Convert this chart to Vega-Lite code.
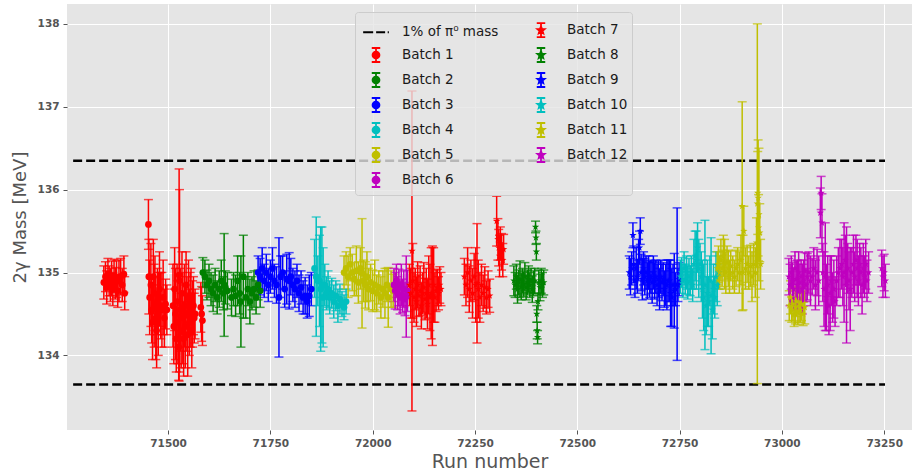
{
"$schema": "https://vega.github.io/schema/vega-lite/v6.json",
"width": 845, "height": 426,
"autosize": {"type": "none"},
"padding": {"left": 67, "top": 4, "right": 1, "bottom": 42},
"background": "white",
"config": {"view": {"fill": "#E5E5E5", "stroke": null}},
"datasets": {
"lim": [
{"batch": "1% of π⁰ mass", "run": 71268, "run2": 73252, "mass": 136.35},
{"batch": "1% of π⁰ mass", "run": 71268, "run2": 73252, "mass": 133.65}
],
"pts": [
{"batch":"Batch 1","run":71343,"mass":134.88,"err":0.2},
{"batch":"Batch 1","run":71347,"mass":134.95,"err":0.18},
{"batch":"Batch 1","run":71350,"mass":134.82,"err":0.2},
{"batch":"Batch 1","run":71353,"mass":134.98,"err":0.19},
{"batch":"Batch 1","run":71356,"mass":134.9,"err":0.18},
{"batch":"Batch 1","run":71359,"mass":134.85,"err":0.2},
{"batch":"Batch 1","run":71362,"mass":134.93,"err":0.21},
{"batch":"Batch 1","run":71365,"mass":134.8,"err":0.2},
{"batch":"Batch 1","run":71368,"mass":134.96,"err":0.2},
{"batch":"Batch 1","run":71371,"mass":134.87,"err":0.19},
{"batch":"Batch 1","run":71374,"mass":134.92,"err":0.22},
{"batch":"Batch 1","run":71377,"mass":134.78,"err":0.2},
{"batch":"Batch 1","run":71380,"mass":134.9,"err":0.25},
{"batch":"Batch 1","run":71384,"mass":134.95,"err":0.22},
{"batch":"Batch 1","run":71388,"mass":134.85,"err":0.2},
{"batch":"Batch 1","run":71392,"mass":134.98,"err":0.22},
{"batch":"Batch 1","run":71394,"mass":134.75,"err":0.2},
{"batch":"Batch 1","run":71452,"mass":135.58,"err":0.3},
{"batch":"Batch 1","run":71453,"mass":134.95,"err":0.45},
{"batch":"Batch 1","run":71455,"mass":134.7,"err":0.45},
{"batch":"Batch 1","run":71458,"mass":134.85,"err":0.5},
{"batch":"Batch 1","run":71460,"mass":134.55,"err":0.4},
{"batch":"Batch 1","run":71462,"mass":134.4,"err":0.45},
{"batch":"Batch 1","run":71464,"mass":134.95,"err":0.45},
{"batch":"Batch 1","run":71466,"mass":134.6,"err":0.5},
{"batch":"Batch 1","run":71468,"mass":134.75,"err":0.45},
{"batch":"Batch 1","run":71470,"mass":134.45,"err":0.5},
{"batch":"Batch 1","run":71472,"mass":134.3,"err":0.45},
{"batch":"Batch 1","run":71474,"mass":134.65,"err":0.4},
{"batch":"Batch 1","run":71476,"mass":134.5,"err":0.5},
{"batch":"Batch 1","run":71479,"mass":134.8,"err":0.45},
{"batch":"Batch 1","run":71482,"mass":134.6,"err":0.4},
{"batch":"Batch 1","run":71485,"mass":134.55,"err":0.45},
{"batch":"Batch 1","run":71488,"mass":134.7,"err":0.45},
{"batch":"Batch 1","run":71491,"mass":134.45,"err":0.35},
{"batch":"Batch 1","run":71494,"mass":134.62,"err":0.3},
{"batch":"Batch 1","run":71497,"mass":134.55,"err":0.3},
{"batch":"Batch 1","run":71512,"mass":134.6,"err":0.5},
{"batch":"Batch 1","run":71514,"mass":134.35,"err":0.45},
{"batch":"Batch 1","run":71516,"mass":134.8,"err":0.5},
{"batch":"Batch 1","run":71518,"mass":134.5,"err":0.55},
{"batch":"Batch 1","run":71520,"mass":134.2,"err":0.4},
{"batch":"Batch 1","run":71522,"mass":134.65,"err":0.45},
{"batch":"Batch 1","run":71524,"mass":134.4,"err":0.5},
{"batch":"Batch 1","run":71526,"mass":134.1,"err":0.4},
{"batch":"Batch 1","run":71527,"mass":134.97,"err":1.28},
{"batch":"Batch 1","run":71528,"mass":134.9,"err":1.1},
{"batch":"Batch 1","run":71530,"mass":134.55,"err":0.5},
{"batch":"Batch 1","run":71532,"mass":134.3,"err":0.45},
{"batch":"Batch 1","run":71534,"mass":134.75,"err":0.5},
{"batch":"Batch 1","run":71536,"mass":134.45,"err":0.55},
{"batch":"Batch 1","run":71538,"mass":134.2,"err":0.45},
{"batch":"Batch 1","run":71540,"mass":134.6,"err":0.5},
{"batch":"Batch 1","run":71542,"mass":134.35,"err":0.5},
{"batch":"Batch 1","run":71544,"mass":134.85,"err":0.4},
{"batch":"Batch 1","run":71546,"mass":134.5,"err":0.45},
{"batch":"Batch 1","run":71548,"mass":134.25,"err":0.5},
{"batch":"Batch 1","run":71550,"mass":134.7,"err":0.45},
{"batch":"Batch 1","run":71552,"mass":134.4,"err":0.4},
{"batch":"Batch 1","run":71554,"mass":134.55,"err":0.45},
{"batch":"Batch 1","run":71556,"mass":134.65,"err":0.4},
{"batch":"Batch 1","run":71558,"mass":134.3,"err":0.45},
{"batch":"Batch 1","run":71560,"mass":134.5,"err":0.4},
{"batch":"Batch 1","run":71562,"mass":134.6,"err":0.35},
{"batch":"Batch 1","run":71564,"mass":134.45,"err":0.3},
{"batch":"Batch 1","run":71566,"mass":134.5,"err":0.3},
{"batch":"Batch 1","run":71580,"mass":134.58,"err":0.3},
{"batch":"Batch 1","run":71582,"mass":134.5,"err":0.33},
{"batch":"Batch 1","run":71584,"mass":134.42,"err":0.3},
{"batch":"Batch 2","run":71585,"mass":135.0,"err":0.18},
{"batch":"Batch 2","run":71590,"mass":134.95,"err":0.2},
{"batch":"Batch 2","run":71595,"mass":134.85,"err":0.18},
{"batch":"Batch 2","run":71600,"mass":134.9,"err":0.2},
{"batch":"Batch 2","run":71605,"mass":134.8,"err":0.2},
{"batch":"Batch 2","run":71610,"mass":134.75,"err":0.22},
{"batch":"Batch 2","run":71615,"mass":134.85,"err":0.2},
{"batch":"Batch 2","run":71620,"mass":134.7,"err":0.2},
{"batch":"Batch 2","run":71625,"mass":134.8,"err":0.22},
{"batch":"Batch 2","run":71630,"mass":134.9,"err":0.25},
{"batch":"Batch 2","run":71635,"mass":134.75,"err":0.2},
{"batch":"Batch 2","run":71637,"mass":134.85,"err":0.62},
{"batch":"Batch 2","run":71640,"mass":134.82,"err":0.2},
{"batch":"Batch 2","run":71645,"mass":134.78,"err":0.22},
{"batch":"Batch 2","run":71655,"mass":134.7,"err":0.22},
{"batch":"Batch 2","run":71660,"mass":134.8,"err":0.2},
{"batch":"Batch 2","run":71665,"mass":134.72,"err":0.25},
{"batch":"Batch 2","run":71670,"mass":134.9,"err":0.3},
{"batch":"Batch 2","run":71675,"mass":134.75,"err":0.25},
{"batch":"Batch 2","run":71678,"mass":134.65,"err":0.55},
{"batch":"Batch 2","run":71684,"mass":134.95,"err":0.5},
{"batch":"Batch 2","run":71690,"mass":134.7,"err":0.25},
{"batch":"Batch 2","run":71695,"mass":134.8,"err":0.2},
{"batch":"Batch 2","run":71700,"mass":134.65,"err":0.27},
{"batch":"Batch 2","run":71705,"mass":134.75,"err":0.2},
{"batch":"Batch 2","run":71710,"mass":134.8,"err":0.22},
{"batch":"Batch 2","run":71715,"mass":134.7,"err":0.2},
{"batch":"Batch 2","run":71720,"mass":134.85,"err":0.18},
{"batch":"Batch 2","run":71725,"mass":134.78,"err":0.2},
{"batch":"Batch 3","run":71720,"mass":135.0,"err":0.2},
{"batch":"Batch 3","run":71725,"mass":134.95,"err":0.22},
{"batch":"Batch 3","run":71730,"mass":135.05,"err":0.25},
{"batch":"Batch 3","run":71735,"mass":134.9,"err":0.2},
{"batch":"Batch 3","run":71740,"mass":135.0,"err":0.22},
{"batch":"Batch 3","run":71745,"mass":134.85,"err":0.2},
{"batch":"Batch 3","run":71750,"mass":134.95,"err":0.2},
{"batch":"Batch 3","run":71755,"mass":135.05,"err":0.25},
{"batch":"Batch 3","run":71760,"mass":134.9,"err":0.2},
{"batch":"Batch 3","run":71765,"mass":134.85,"err":0.22},
{"batch":"Batch 3","run":71771,"mass":134.7,"err":0.72},
{"batch":"Batch 3","run":71775,"mass":134.95,"err":0.25},
{"batch":"Batch 3","run":71780,"mass":135.0,"err":0.2},
{"batch":"Batch 3","run":71785,"mass":134.8,"err":0.22},
{"batch":"Batch 3","run":71790,"mass":134.92,"err":0.3},
{"batch":"Batch 3","run":71796,"mass":134.9,"err":0.34},
{"batch":"Batch 3","run":71800,"mass":134.95,"err":0.22},
{"batch":"Batch 3","run":71805,"mass":134.85,"err":0.2},
{"batch":"Batch 3","run":71810,"mass":134.8,"err":0.22},
{"batch":"Batch 3","run":71815,"mass":134.9,"err":0.2},
{"batch":"Batch 3","run":71820,"mass":134.75,"err":0.22},
{"batch":"Batch 3","run":71825,"mass":134.82,"err":0.2},
{"batch":"Batch 3","run":71830,"mass":134.7,"err":0.2},
{"batch":"Batch 3","run":71835,"mass":134.72,"err":0.22},
{"batch":"Batch 3","run":71840,"mass":134.65,"err":0.2},
{"batch":"Batch 3","run":71845,"mass":134.72,"err":0.25},
{"batch":"Batch 3","run":71850,"mass":134.8,"err":0.2},
{"batch":"Batch 4","run":71858,"mass":135.05,"err":0.35},
{"batch":"Batch 4","run":71862,"mass":134.95,"err":0.72},
{"batch":"Batch 4","run":71866,"mass":134.9,"err":0.3},
{"batch":"Batch 4","run":71870,"mass":134.9,"err":0.55},
{"batch":"Batch 4","run":71873,"mass":134.8,"err":0.75},
{"batch":"Batch 4","run":71876,"mass":134.85,"err":0.7},
{"batch":"Batch 4","run":71879,"mass":134.7,"err":0.6},
{"batch":"Batch 4","run":71883,"mass":134.85,"err":0.25},
{"batch":"Batch 4","run":71887,"mass":134.75,"err":0.2},
{"batch":"Batch 4","run":71891,"mass":134.8,"err":0.22},
{"batch":"Batch 4","run":71895,"mass":134.7,"err":0.2},
{"batch":"Batch 4","run":71900,"mass":134.75,"err":0.18},
{"batch":"Batch 4","run":71905,"mass":134.65,"err":0.2},
{"batch":"Batch 4","run":71910,"mass":134.72,"err":0.18},
{"batch":"Batch 4","run":71915,"mass":134.6,"err":0.2},
{"batch":"Batch 4","run":71920,"mass":134.68,"err":0.18},
{"batch":"Batch 4","run":71925,"mass":134.62,"err":0.15},
{"batch":"Batch 4","run":71930,"mass":134.58,"err":0.15},
{"batch":"Batch 4","run":71935,"mass":134.65,"err":0.15},
{"batch":"Batch 5","run":71930,"mass":135.0,"err":0.2},
{"batch":"Batch 5","run":71935,"mass":135.05,"err":0.2},
{"batch":"Batch 5","run":71940,"mass":134.95,"err":0.25},
{"batch":"Batch 5","run":71945,"mass":135.1,"err":0.2},
{"batch":"Batch 5","run":71950,"mass":135.0,"err":0.22},
{"batch":"Batch 5","run":71955,"mass":134.92,"err":0.2},
{"batch":"Batch 5","run":71960,"mass":135.02,"err":0.3},
{"batch":"Batch 5","run":71965,"mass":134.88,"err":0.25},
{"batch":"Batch 5","run":71970,"mass":135.05,"err":0.25},
{"batch":"Batch 5","run":71974,"mass":134.99,"err":0.66},
{"batch":"Batch 5","run":71978,"mass":134.9,"err":0.25},
{"batch":"Batch 5","run":71982,"mass":134.85,"err":0.28},
{"batch":"Batch 5","run":71986,"mass":134.95,"err":0.3},
{"batch":"Batch 5","run":71990,"mass":134.8,"err":0.25},
{"batch":"Batch 5","run":71995,"mass":134.88,"err":0.22},
{"batch":"Batch 5","run":72000,"mass":134.78,"err":0.25},
{"batch":"Batch 5","run":72005,"mass":134.85,"err":0.3},
{"batch":"Batch 5","run":72010,"mass":134.75,"err":0.22},
{"batch":"Batch 5","run":72015,"mass":134.82,"err":0.2},
{"batch":"Batch 5","run":72020,"mass":134.7,"err":0.25},
{"batch":"Batch 5","run":72025,"mass":134.8,"err":0.22},
{"batch":"Batch 5","run":72030,"mass":134.75,"err":0.3},
{"batch":"Batch 5","run":72035,"mass":134.85,"err":0.2},
{"batch":"Batch 5","run":72038,"mass":134.7,"err":0.36},
{"batch":"Batch 5","run":72045,"mass":134.8,"err":0.22},
{"batch":"Batch 5","run":72050,"mass":134.78,"err":0.2},
{"batch":"Batch 6","run":72052,"mass":134.85,"err":0.2},
{"batch":"Batch 6","run":72055,"mass":134.78,"err":0.22},
{"batch":"Batch 6","run":72058,"mass":134.9,"err":0.2},
{"batch":"Batch 6","run":72061,"mass":134.75,"err":0.2},
{"batch":"Batch 6","run":72064,"mass":134.82,"err":0.22},
{"batch":"Batch 6","run":72067,"mass":134.7,"err":0.2},
{"batch":"Batch 6","run":72070,"mass":134.85,"err":0.25},
{"batch":"Batch 6","run":72073,"mass":134.72,"err":0.2},
{"batch":"Batch 6","run":72076,"mass":134.8,"err":0.22},
{"batch":"Batch 6","run":72079,"mass":134.68,"err":0.2},
{"batch":"Batch 6","run":72082,"mass":134.71,"err":0.49},
{"batch":"Batch 6","run":72085,"mass":134.78,"err":0.25},
{"batch":"Batch 7","run":72090,"mass":134.85,"err":0.25},
{"batch":"Batch 7","run":72093,"mass":134.75,"err":0.3},
{"batch":"Batch 7","run":72096,"mass":135.26,"err":1.93},
{"batch":"Batch 7","run":72098,"mass":134.9,"err":0.45},
{"batch":"Batch 7","run":72101,"mass":134.7,"err":0.3},
{"batch":"Batch 7","run":72104,"mass":134.8,"err":0.25},
{"batch":"Batch 7","run":72107,"mass":134.65,"err":0.3},
{"batch":"Batch 7","run":72110,"mass":134.85,"err":0.28},
{"batch":"Batch 7","run":72113,"mass":134.72,"err":0.25},
{"batch":"Batch 7","run":72116,"mass":134.78,"err":0.3},
{"batch":"Batch 7","run":72119,"mass":134.6,"err":0.28},
{"batch":"Batch 7","run":72122,"mass":134.75,"err":0.25},
{"batch":"Batch 7","run":72125,"mass":134.82,"err":0.3},
{"batch":"Batch 7","run":72128,"mass":134.68,"err":0.25},
{"batch":"Batch 7","run":72131,"mass":134.75,"err":0.3},
{"batch":"Batch 7","run":72134,"mass":134.62,"err":0.3},
{"batch":"Batch 7","run":72137,"mass":134.85,"err":0.35},
{"batch":"Batch 7","run":72140,"mass":134.7,"err":0.4},
{"batch":"Batch 7","run":72143,"mass":134.75,"err":0.55},
{"batch":"Batch 7","run":72146,"mass":134.72,"err":0.6},
{"batch":"Batch 7","run":72149,"mass":134.85,"err":0.45},
{"batch":"Batch 7","run":72152,"mass":134.7,"err":0.3},
{"batch":"Batch 7","run":72155,"mass":134.78,"err":0.25},
{"batch":"Batch 7","run":72158,"mass":134.82,"err":0.22},
{"batch":"Batch 7","run":72161,"mass":134.75,"err":0.2},
{"batch":"Batch 7","run":72164,"mass":134.85,"err":0.22},
{"batch":"Batch 7","run":72167,"mass":134.8,"err":0.2},
{"batch":"Batch 7","run":72224,"mass":134.95,"err":0.22},
{"batch":"Batch 7","run":72228,"mass":134.85,"err":0.25},
{"batch":"Batch 7","run":72232,"mass":135.0,"err":0.3},
{"batch":"Batch 7","run":72236,"mass":134.8,"err":0.28},
{"batch":"Batch 7","run":72240,"mass":134.9,"err":0.25},
{"batch":"Batch 7","run":72244,"mass":134.75,"err":0.3},
{"batch":"Batch 7","run":72248,"mass":134.95,"err":0.28},
{"batch":"Batch 7","run":72252,"mass":134.85,"err":0.45},
{"batch":"Batch 7","run":72255,"mass":134.87,"err":0.72},
{"batch":"Batch 7","run":72258,"mass":134.8,"err":0.35},
{"batch":"Batch 7","run":72262,"mass":134.7,"err":0.3},
{"batch":"Batch 7","run":72266,"mass":134.85,"err":0.25},
{"batch":"Batch 7","run":72270,"mass":134.75,"err":0.22},
{"batch":"Batch 7","run":72274,"mass":134.82,"err":0.25},
{"batch":"Batch 7","run":72278,"mass":134.7,"err":0.2},
{"batch":"Batch 7","run":72282,"mass":134.8,"err":0.22},
{"batch":"Batch 7","run":72286,"mass":134.72,"err":0.2},
{"batch":"Batch 7","run":72303,"mass":135.62,"err":0.3},
{"batch":"Batch 7","run":72306,"mass":135.4,"err":0.25},
{"batch":"Batch 7","run":72308,"mass":135.3,"err":0.22},
{"batch":"Batch 7","run":72310,"mass":135.2,"err":0.25},
{"batch":"Batch 7","run":72312,"mass":135.35,"err":0.2},
{"batch":"Batch 7","run":72315,"mass":135.25,"err":0.22},
{"batch":"Batch 7","run":72318,"mass":135.15,"err":0.2},
{"batch":"Batch 7","run":72320,"mass":135.28,"err":0.18},
{"batch":"Batch 8","run":72345,"mass":134.9,"err":0.18},
{"batch":"Batch 8","run":72348,"mass":134.85,"err":0.15},
{"batch":"Batch 8","run":72351,"mass":134.95,"err":0.15},
{"batch":"Batch 8","run":72354,"mass":134.8,"err":0.17},
{"batch":"Batch 8","run":72357,"mass":134.88,"err":0.15},
{"batch":"Batch 8","run":72360,"mass":134.92,"err":0.22},
{"batch":"Batch 8","run":72363,"mass":134.83,"err":0.16},
{"batch":"Batch 8","run":72366,"mass":134.9,"err":0.15},
{"batch":"Batch 8","run":72369,"mass":134.86,"err":0.15},
{"batch":"Batch 8","run":72372,"mass":134.95,"err":0.17},
{"batch":"Batch 8","run":72375,"mass":134.82,"err":0.15},
{"batch":"Batch 8","run":72378,"mass":134.88,"err":0.15},
{"batch":"Batch 8","run":72381,"mass":134.92,"err":0.16},
{"batch":"Batch 8","run":72384,"mass":134.85,"err":0.15},
{"batch":"Batch 8","run":72387,"mass":134.9,"err":0.15},
{"batch":"Batch 8","run":72390,"mass":134.8,"err":0.16},
{"batch":"Batch 8","run":72393,"mass":134.87,"err":0.15},
{"batch":"Batch 8","run":72396,"mass":134.9,"err":0.15},
{"batch":"Batch 8","run":72398,"mass":135.55,"err":0.07},
{"batch":"Batch 8","run":72399,"mass":135.42,"err":0.08},
{"batch":"Batch 8","run":72400,"mass":135.25,"err":0.1},
{"batch":"Batch 8","run":72401,"mass":134.5,"err":0.1},
{"batch":"Batch 8","run":72402,"mass":134.3,"err":0.1},
{"batch":"Batch 8","run":72403,"mass":134.22,"err":0.08},
{"batch":"Batch 8","run":72404,"mass":134.65,"err":0.1},
{"batch":"Batch 8","run":72406,"mass":134.88,"err":0.15},
{"batch":"Batch 8","run":72409,"mass":134.82,"err":0.16},
{"batch":"Batch 8","run":72412,"mass":134.9,"err":0.15},
{"batch":"Batch 8","run":72415,"mass":134.85,"err":0.15},
{"batch":"Batch 8","run":72418,"mass":134.88,"err":0.15},
{"batch":"Batch 9","run":72627,"mass":135.0,"err":0.2},
{"batch":"Batch 9","run":72630,"mass":134.95,"err":0.22},
{"batch":"Batch 9","run":72633,"mass":135.05,"err":0.2},
{"batch":"Batch 9","run":72636,"mass":135.45,"err":0.15},
{"batch":"Batch 9","run":72638,"mass":135.1,"err":0.22},
{"batch":"Batch 9","run":72641,"mass":134.9,"err":0.2},
{"batch":"Batch 9","run":72644,"mass":135.05,"err":0.25},
{"batch":"Batch 9","run":72647,"mass":134.95,"err":0.2},
{"batch":"Batch 9","run":72650,"mass":135.15,"err":0.25},
{"batch":"Batch 9","run":72652,"mass":135.3,"err":0.2},
{"batch":"Batch 9","run":72654,"mass":135.5,"err":0.16},
{"batch":"Batch 9","run":72656,"mass":135.0,"err":0.22},
{"batch":"Batch 9","run":72659,"mass":134.92,"err":0.25},
{"batch":"Batch 9","run":72662,"mass":135.05,"err":0.2},
{"batch":"Batch 9","run":72665,"mass":134.95,"err":0.22},
{"batch":"Batch 9","run":72668,"mass":135.0,"err":0.2},
{"batch":"Batch 9","run":72671,"mass":134.9,"err":0.22},
{"batch":"Batch 9","run":72674,"mass":135.0,"err":0.2},
{"batch":"Batch 9","run":72677,"mass":134.92,"err":0.22},
{"batch":"Batch 9","run":72680,"mass":134.95,"err":0.2},
{"batch":"Batch 9","run":72683,"mass":134.88,"err":0.25},
{"batch":"Batch 9","run":72686,"mass":135.0,"err":0.2},
{"batch":"Batch 9","run":72689,"mass":134.9,"err":0.22},
{"batch":"Batch 9","run":72692,"mass":134.95,"err":0.2},
{"batch":"Batch 9","run":72695,"mass":134.85,"err":0.25},
{"batch":"Batch 9","run":72698,"mass":134.92,"err":0.22},
{"batch":"Batch 9","run":72701,"mass":134.8,"err":0.25},
{"batch":"Batch 9","run":72704,"mass":134.95,"err":0.2},
{"batch":"Batch 9","run":72707,"mass":134.88,"err":0.22},
{"batch":"Batch 9","run":72710,"mass":134.92,"err":0.2},
{"batch":"Batch 9","run":72713,"mass":134.8,"err":0.22},
{"batch":"Batch 9","run":72716,"mass":134.85,"err":0.25},
{"batch":"Batch 9","run":72719,"mass":134.85,"err":0.3},
{"batch":"Batch 9","run":72722,"mass":134.9,"err":0.25},
{"batch":"Batch 9","run":72725,"mass":134.9,"err":0.25},
{"batch":"Batch 9","run":72728,"mass":134.75,"err":0.4},
{"batch":"Batch 9","run":72731,"mass":134.7,"err":0.35},
{"batch":"Batch 9","run":72734,"mass":134.85,"err":0.25},
{"batch":"Batch 9","run":72737,"mass":134.78,"err":0.45},
{"batch":"Batch 9","run":72740,"mass":134.8,"err":0.2},
{"batch":"Batch 9","run":72744,"mass":134.86,"err":0.92},
{"batch":"Batch 9","run":72746,"mass":134.85,"err":0.2},
{"batch":"Batch 9","run":72749,"mass":134.92,"err":0.2},
{"batch":"Batch 10","run":72752,"mass":134.95,"err":0.2},
{"batch":"Batch 10","run":72755,"mass":135.0,"err":0.18},
{"batch":"Batch 10","run":72758,"mass":134.9,"err":0.2},
{"batch":"Batch 10","run":72761,"mass":135.05,"err":0.2},
{"batch":"Batch 10","run":72764,"mass":134.92,"err":0.18},
{"batch":"Batch 10","run":72767,"mass":135.0,"err":0.2},
{"batch":"Batch 10","run":72770,"mass":134.88,"err":0.2},
{"batch":"Batch 10","run":72773,"mass":134.95,"err":0.22},
{"batch":"Batch 10","run":72776,"mass":134.9,"err":0.18},
{"batch":"Batch 10","run":72779,"mass":135.0,"err":0.2},
{"batch":"Batch 10","run":72782,"mass":134.85,"err":0.2},
{"batch":"Batch 10","run":72785,"mass":135.1,"err":0.3},
{"batch":"Batch 10","run":72788,"mass":135.2,"err":0.3},
{"batch":"Batch 10","run":72791,"mass":135.15,"err":0.35},
{"batch":"Batch 10","run":72794,"mass":135.3,"err":0.3},
{"batch":"Batch 10","run":72797,"mass":135.05,"err":0.35},
{"batch":"Batch 10","run":72800,"mass":135.1,"err":0.25},
{"batch":"Batch 10","run":72803,"mass":134.95,"err":0.3},
{"batch":"Batch 10","run":72806,"mass":134.8,"err":0.35},
{"batch":"Batch 10","run":72809,"mass":134.7,"err":0.4},
{"batch":"Batch 10","run":72812,"mass":134.85,"err":0.78},
{"batch":"Batch 10","run":72815,"mass":134.6,"err":0.35},
{"batch":"Batch 10","run":72818,"mass":134.75,"err":0.4},
{"batch":"Batch 10","run":72821,"mass":134.65,"err":0.3},
{"batch":"Batch 10","run":72824,"mass":134.9,"err":0.3},
{"batch":"Batch 10","run":72827,"mass":134.72,"err":0.7},
{"batch":"Batch 10","run":72830,"mass":134.55,"err":0.35},
{"batch":"Batch 10","run":72833,"mass":134.8,"err":0.3},
{"batch":"Batch 10","run":72836,"mass":134.7,"err":0.25},
{"batch":"Batch 10","run":72839,"mass":134.95,"err":0.3},
{"batch":"Batch 10","run":72842,"mass":134.85,"err":0.25},
{"batch":"Batch 10","run":72845,"mass":135.0,"err":0.2},
{"batch":"Batch 11","run":72842,"mass":135.05,"err":0.2},
{"batch":"Batch 11","run":72845,"mass":135.1,"err":0.22},
{"batch":"Batch 11","run":72848,"mass":135.0,"err":0.2},
{"batch":"Batch 11","run":72851,"mass":135.15,"err":0.25},
{"batch":"Batch 11","run":72854,"mass":135.05,"err":0.22},
{"batch":"Batch 11","run":72857,"mass":135.2,"err":0.25},
{"batch":"Batch 11","run":72860,"mass":135.1,"err":0.3},
{"batch":"Batch 11","run":72863,"mass":135.0,"err":0.25},
{"batch":"Batch 11","run":72866,"mass":135.12,"err":0.2},
{"batch":"Batch 11","run":72869,"mass":135.05,"err":0.22},
{"batch":"Batch 11","run":72872,"mass":134.95,"err":0.2},
{"batch":"Batch 11","run":72875,"mass":135.08,"err":0.18},
{"batch":"Batch 11","run":72880,"mass":135.0,"err":0.2},
{"batch":"Batch 11","run":72884,"mass":134.95,"err":0.2},
{"batch":"Batch 11","run":72888,"mass":135.05,"err":0.22},
{"batch":"Batch 11","run":72892,"mass":135.1,"err":0.2},
{"batch":"Batch 11","run":72896,"mass":135.0,"err":0.25},
{"batch":"Batch 11","run":72900,"mass":135.15,"err":0.3},
{"batch":"Batch 11","run":72903,"mass":135.8,"err":1.26},
{"batch":"Batch 11","run":72905,"mass":135.0,"err":0.45},
{"batch":"Batch 11","run":72907,"mass":135.5,"err":0.3},
{"batch":"Batch 11","run":72911,"mass":135.05,"err":0.25},
{"batch":"Batch 11","run":72915,"mass":135.1,"err":0.22},
{"batch":"Batch 11","run":72919,"mass":135.0,"err":0.2},
{"batch":"Batch 11","run":72923,"mass":135.08,"err":0.25},
{"batch":"Batch 11","run":72927,"mass":134.95,"err":0.3},
{"batch":"Batch 11","run":72931,"mass":135.1,"err":0.25},
{"batch":"Batch 11","run":72935,"mass":135.0,"err":0.3},
{"batch":"Batch 11","run":72938,"mass":135.36,"err":0.3},
{"batch":"Batch 11","run":72940,"mass":135.83,"err":2.17},
{"batch":"Batch 11","run":72941,"mass":135.96,"err":0.5},
{"batch":"Batch 11","run":72942,"mass":135.9,"err":0.7},
{"batch":"Batch 11","run":72943,"mass":135.54,"err":0.4},
{"batch":"Batch 11","run":72944,"mass":135.7,"err":0.8},
{"batch":"Batch 11","run":72946,"mass":135.48,"err":0.35},
{"batch":"Batch 11","run":72948,"mass":135.1,"err":0.3},
{"batch":"Batch 11","run":73018,"mass":134.6,"err":0.18},
{"batch":"Batch 11","run":73021,"mass":134.7,"err":0.2},
{"batch":"Batch 11","run":73024,"mass":134.55,"err":0.15},
{"batch":"Batch 11","run":73027,"mass":134.62,"err":0.2},
{"batch":"Batch 11","run":73030,"mass":134.5,"err":0.15},
{"batch":"Batch 11","run":73033,"mass":134.58,"err":0.2},
{"batch":"Batch 11","run":73036,"mass":134.65,"err":0.18},
{"batch":"Batch 11","run":73039,"mass":134.52,"err":0.15},
{"batch":"Batch 11","run":73042,"mass":134.6,"err":0.2},
{"batch":"Batch 11","run":73045,"mass":134.55,"err":0.15},
{"batch":"Batch 11","run":73048,"mass":134.62,"err":0.2},
{"batch":"Batch 11","run":73052,"mass":134.5,"err":0.14},
{"batch":"Batch 11","run":73056,"mass":134.58,"err":0.2},
{"batch":"Batch 12","run":73017,"mass":134.95,"err":0.22},
{"batch":"Batch 12","run":73020,"mass":134.85,"err":0.25},
{"batch":"Batch 12","run":73023,"mass":135.0,"err":0.2},
{"batch":"Batch 12","run":73026,"mass":134.9,"err":0.22},
{"batch":"Batch 12","run":73029,"mass":134.8,"err":0.25},
{"batch":"Batch 12","run":73032,"mass":135.05,"err":0.2},
{"batch":"Batch 12","run":73035,"mass":134.92,"err":0.22},
{"batch":"Batch 12","run":73038,"mass":134.85,"err":0.3},
{"batch":"Batch 12","run":73041,"mass":135.0,"err":0.25},
{"batch":"Batch 12","run":73044,"mass":134.88,"err":0.22},
{"batch":"Batch 12","run":73047,"mass":134.95,"err":0.2},
{"batch":"Batch 12","run":73050,"mass":134.8,"err":0.3},
{"batch":"Batch 12","run":73053,"mass":134.9,"err":0.25},
{"batch":"Batch 12","run":73056,"mass":135.02,"err":0.22},
{"batch":"Batch 12","run":73059,"mass":134.85,"err":0.2},
{"batch":"Batch 12","run":73062,"mass":134.95,"err":0.28},
{"batch":"Batch 12","run":73066,"mass":135.0,"err":0.25},
{"batch":"Batch 12","run":73070,"mass":134.9,"err":0.3},
{"batch":"Batch 12","run":73074,"mass":134.95,"err":0.22},
{"batch":"Batch 12","run":73078,"mass":135.05,"err":0.25},
{"batch":"Batch 12","run":73082,"mass":134.85,"err":0.3},
{"batch":"Batch 12","run":73086,"mass":135.0,"err":0.28},
{"batch":"Batch 12","run":73090,"mass":134.9,"err":0.3},
{"batch":"Batch 12","run":73094,"mass":135.72,"err":0.3},
{"batch":"Batch 12","run":73096,"mass":135.96,"err":0.2},
{"batch":"Batch 12","run":73098,"mass":135.6,"err":0.35},
{"batch":"Batch 12","run":73100,"mass":135.0,"err":0.35},
{"batch":"Batch 12","run":73103,"mass":134.8,"err":0.45},
{"batch":"Batch 12","run":73106,"mass":134.95,"err":0.65},
{"batch":"Batch 12","run":73109,"mass":134.7,"err":0.4},
{"batch":"Batch 12","run":73112,"mass":134.85,"err":0.35},
{"batch":"Batch 12","run":73115,"mass":134.6,"err":0.35},
{"batch":"Batch 12","run":73118,"mass":134.75,"err":0.45},
{"batch":"Batch 12","run":73121,"mass":134.9,"err":0.3},
{"batch":"Batch 12","run":73124,"mass":134.7,"err":0.3},
{"batch":"Batch 12","run":73127,"mass":134.8,"err":0.35},
{"batch":"Batch 12","run":73130,"mass":134.65,"err":0.3},
{"batch":"Batch 12","run":73134,"mass":134.9,"err":0.3},
{"batch":"Batch 12","run":73138,"mass":135.0,"err":0.3},
{"batch":"Batch 12","run":73142,"mass":135.05,"err":0.35},
{"batch":"Batch 12","run":73146,"mass":135.1,"err":0.3},
{"batch":"Batch 12","run":73149,"mass":134.95,"err":0.35},
{"batch":"Batch 12","run":73152,"mass":135.0,"err":0.6},
{"batch":"Batch 12","run":73155,"mass":135.15,"err":0.3},
{"batch":"Batch 12","run":73158,"mass":134.85,"err":0.7},
{"batch":"Batch 12","run":73161,"mass":135.05,"err":0.3},
{"batch":"Batch 12","run":73164,"mass":134.9,"err":0.35},
{"batch":"Batch 12","run":73167,"mass":134.8,"err":0.5},
{"batch":"Batch 12","run":73171,"mass":135.0,"err":0.3},
{"batch":"Batch 12","run":73175,"mass":135.1,"err":0.35},
{"batch":"Batch 12","run":73178,"mass":134.95,"err":0.3},
{"batch":"Batch 12","run":73181,"mass":135.15,"err":0.3},
{"batch":"Batch 12","run":73184,"mass":135.05,"err":0.35},
{"batch":"Batch 12","run":73187,"mass":134.9,"err":0.3},
{"batch":"Batch 12","run":73190,"mass":135.1,"err":0.25},
{"batch":"Batch 12","run":73193,"mass":135.0,"err":0.3},
{"batch":"Batch 12","run":73196,"mass":134.85,"err":0.35},
{"batch":"Batch 12","run":73199,"mass":135.05,"err":0.3},
{"batch":"Batch 12","run":73202,"mass":134.95,"err":0.25},
{"batch":"Batch 12","run":73205,"mass":135.1,"err":0.3},
{"batch":"Batch 12","run":73208,"mass":134.9,"err":0.25},
{"batch":"Batch 12","run":73212,"mass":135.0,"err":0.25},
{"batch":"Batch 12","run":73244,"mass":135.05,"err":0.22},
{"batch":"Batch 12","run":73247,"mass":134.95,"err":0.25},
{"batch":"Batch 12","run":73250,"mass":135.0,"err":0.22},
{"batch":"Batch 12","run":73253,"mass":134.9,"err":0.2}
]
},
"encoding": {
"x": {"field": "run", "type": "quantitative",
  "scale": {"domain": [71253, 73318], "nice": false, "zero": false},
  "axis": {"orient": "bottom", "title": "Run number", "values": [71500, 71750, 72000, 72250, 72500, 72750, 73000, 73250], "format": "d",
    "domain": false, "grid": true, "gridColor": "white", "gridWidth": 1, "tickColor": "#555555", "tickSize": 4, "tickWidth": 1,
    "labelFont": "DejaVu Sans", "labelFontSize": 10.5, "labelFontWeight": "bold", "labelColor": "#555555", "labelPadding": 4,
    "titleFont": "DejaVu Sans", "titleFontSize": 19, "titleFontWeight": "normal", "titleColor": "#555555", "titlePadding": 4}},
"y": {"field": "mass", "type": "quantitative",
  "scale": {"domain": [133.1, 138.24], "nice": false, "zero": false},
  "axis": {"orient": "left", "title": "2γ Mass [MeV]", "values": [134, 135, 136, 137, 138],
    "domain": false, "grid": true, "gridColor": "white", "gridWidth": 1, "tickColor": "#555555", "tickSize": 4, "tickWidth": 1,
    "labelFont": "DejaVu Sans", "labelFontSize": 10.5, "labelFontWeight": "bold", "labelColor": "#555555", "labelPadding": 4,
    "titleFont": "DejaVu Sans", "titleFontSize": 18, "titleFontWeight": "normal", "titleColor": "#555555", "titlePadding": 8}}
},
"layer": [
{
"data": {"name": "lim"},
"mark": {"type": "rule", "strokeDash": [9, 4], "strokeWidth": 2.5, "color": "black"},
"encoding": {"x2": {"field": "run2"}}
},
{
"data": {"name": "pts"},
"mark": {"type": "errorbar", "ticks": {"size": 9, "thickness": 1.5}, "thickness": 1.5},
"encoding": {
  "yError": {"field": "err"},
  "color": {"field": "batch", "type": "nominal",
    "scale": {"domain": ["Batch 1","Batch 2","Batch 3","Batch 4","Batch 5","Batch 6","Batch 7","Batch 8","Batch 9","Batch 10","Batch 11","Batch 12"],
      "range": ["#ff0000","#008000","#0000ff","#00bfbf","#bfbf00","#bf00bf","#ff0000","#008000","#0000ff","#00bfbf","#bfbf00","#bf00bf"]},
    "legend": null}
}
},
{
"data": {"name": "pts"},
"transform": [{"filter": {"field": "batch", "oneOf": ["Batch 1","Batch 2","Batch 3","Batch 4","Batch 5","Batch 6"]}}],
"mark": {"type": "point", "shape": "circle", "filled": true, "opacity": 1, "size": 45, "strokeWidth": 0},
"encoding": {
  "color": {"field": "batch", "type": "nominal", "legend": null}
}
},
{
"data": {"name": "pts"},
"transform": [{"filter": {"field": "batch", "oneOf": ["Batch 7","Batch 8","Batch 9","Batch 10","Batch 11","Batch 12"]}}],
"mark": {"type": "point", "shape": "M0,-1L0.235,-0.324L0.951,-0.309L0.38,0.124L0.588,0.809L0,0.4L-0.588,0.809L-0.38,0.124L-0.951,-0.309L-0.235,-0.324Z", "filled": true, "opacity": 1, "size": 60, "strokeWidth": 0},
"encoding": {
  "color": {"field": "batch", "type": "nominal", "legend": null}
}
},
{
"data": {"name": "lim"},
"transform": [{"filter": {"field": "batch", "equal": "none"}}],
"mark": {"type": "point", "filled": true, "strokeWidth": 1.8},
"encoding": {
  "fill": {"field": "batch", "type": "nominal",
    "scale": {"domain": ["1% of π⁰ mass","Batch 1","Batch 2","Batch 3","Batch 4","Batch 5","Batch 6","Batch 7","Batch 8","Batch 9","Batch 10","Batch 11","Batch 12"],
      "range": ["#000000","#ff0000","#008000","#0000ff","#00bfbf","#bfbf00","#bf00bf","#ff0000","#008000","#0000ff","#00bfbf","#bfbf00","#bf00bf"]},
    "legend": {"title": null, "orient": "none", "legendX": 288, "legendY": 8, "columns": 2, "columnPadding": 25, "rowPadding": 0,
      "padding": 4, "symbolOffset": 3, "labelOffset": 12, "symbolSize": 660, "symbolOpacity": 1, "symbolStrokeWidth": 1.8,
      "labelFont": "DejaVu Sans", "labelFontSize": 13.5, "labelColor": "#1a1a1a", "labelLimit": 200,
      "fillColor": "rgba(229,229,229,0.8)", "strokeColor": "#cccccc", "cornerRadius": 3}},
  "stroke": {"field": "batch", "type": "nominal",
    "scale": {"domain": ["1% of π⁰ mass","Batch 1","Batch 2","Batch 3","Batch 4","Batch 5","Batch 6","Batch 7","Batch 8","Batch 9","Batch 10","Batch 11","Batch 12"],
      "range": ["#000000","#ff0000","#008000","#0000ff","#00bfbf","#bfbf00","#bf00bf","#ff0000","#008000","#0000ff","#00bfbf","#bfbf00","#bf00bf"]},
    "legend": {"title": null, "orient": "none", "legendX": 288, "legendY": 8, "columns": 2, "columnPadding": 25, "rowPadding": 0,
      "padding": 4, "symbolOffset": 3, "labelOffset": 12, "symbolSize": 660, "symbolOpacity": 1, "symbolStrokeWidth": 1.8,
      "labelFont": "DejaVu Sans", "labelFontSize": 13.5, "labelColor": "#1a1a1a", "labelLimit": 200,
      "fillColor": "rgba(229,229,229,0.8)", "strokeColor": "#cccccc", "cornerRadius": 3}},
  "shape": {"field": "batch", "type": "nominal",
    "scale": {"domain": ["1% of π⁰ mass","Batch 1","Batch 2","Batch 3","Batch 4","Batch 5","Batch 6","Batch 7","Batch 8","Batch 9","Batch 10","Batch 11","Batch 12"],
      "range": [
        "M-1,0H-0.22M0.01,0H0.71M0.91,0H1",
        "M-0.33,-0.545H0.33M0,-0.545V0.545M-0.33,0.545H0.33M0.27,0A0.27,0.27,0,1,1,-0.27,0A0.27,0.27,0,1,1,0.27,0Z",
        "M-0.33,-0.545H0.33M0,-0.545V0.545M-0.33,0.545H0.33M0.27,0A0.27,0.27,0,1,1,-0.27,0A0.27,0.27,0,1,1,0.27,0Z",
        "M-0.33,-0.545H0.33M0,-0.545V0.545M-0.33,0.545H0.33M0.27,0A0.27,0.27,0,1,1,-0.27,0A0.27,0.27,0,1,1,0.27,0Z",
        "M-0.33,-0.545H0.33M0,-0.545V0.545M-0.33,0.545H0.33M0.27,0A0.27,0.27,0,1,1,-0.27,0A0.27,0.27,0,1,1,0.27,0Z",
        "M-0.33,-0.545H0.33M0,-0.545V0.545M-0.33,0.545H0.33M0.27,0A0.27,0.27,0,1,1,-0.27,0A0.27,0.27,0,1,1,0.27,0Z",
        "M-0.33,-0.545H0.33M0,-0.545V0.545M-0.33,0.545H0.33M0.27,0A0.27,0.27,0,1,1,-0.27,0A0.27,0.27,0,1,1,0.27,0Z",
        "M-0.33,-0.545H0.33M0,-0.545V0.545M-0.33,0.545H0.33M0,-0.3L0.076,-0.105L0.285,-0.093L0.124,0.04L0.176,0.243L0,0.13L-0.176,0.243L-0.124,0.04L-0.285,-0.093L-0.076,-0.105Z",
        "M-0.33,-0.545H0.33M0,-0.545V0.545M-0.33,0.545H0.33M0,-0.3L0.076,-0.105L0.285,-0.093L0.124,0.04L0.176,0.243L0,0.13L-0.176,0.243L-0.124,0.04L-0.285,-0.093L-0.076,-0.105Z",
        "M-0.33,-0.545H0.33M0,-0.545V0.545M-0.33,0.545H0.33M0,-0.3L0.076,-0.105L0.285,-0.093L0.124,0.04L0.176,0.243L0,0.13L-0.176,0.243L-0.124,0.04L-0.285,-0.093L-0.076,-0.105Z",
        "M-0.33,-0.545H0.33M0,-0.545V0.545M-0.33,0.545H0.33M0,-0.3L0.076,-0.105L0.285,-0.093L0.124,0.04L0.176,0.243L0,0.13L-0.176,0.243L-0.124,0.04L-0.285,-0.093L-0.076,-0.105Z",
        "M-0.33,-0.545H0.33M0,-0.545V0.545M-0.33,0.545H0.33M0,-0.3L0.076,-0.105L0.285,-0.093L0.124,0.04L0.176,0.243L0,0.13L-0.176,0.243L-0.124,0.04L-0.285,-0.093L-0.076,-0.105Z",
        "M-0.33,-0.545H0.33M0,-0.545V0.545M-0.33,0.545H0.33M0,-0.3L0.076,-0.105L0.285,-0.093L0.124,0.04L0.176,0.243L0,0.13L-0.176,0.243L-0.124,0.04L-0.285,-0.093L-0.076,-0.105Z"
      ]},
    "legend": {"title": null, "orient": "none", "legendX": 288, "legendY": 8, "columns": 2, "columnPadding": 25, "rowPadding": 0,
      "padding": 4, "symbolOffset": 3, "labelOffset": 12, "symbolSize": 660, "symbolOpacity": 1, "symbolStrokeWidth": 1.8,
      "labelFont": "DejaVu Sans", "labelFontSize": 13.5, "labelColor": "#1a1a1a", "labelLimit": 200,
      "fillColor": "rgba(229,229,229,0.8)", "strokeColor": "#cccccc", "cornerRadius": 3}}
}
}
]
}
